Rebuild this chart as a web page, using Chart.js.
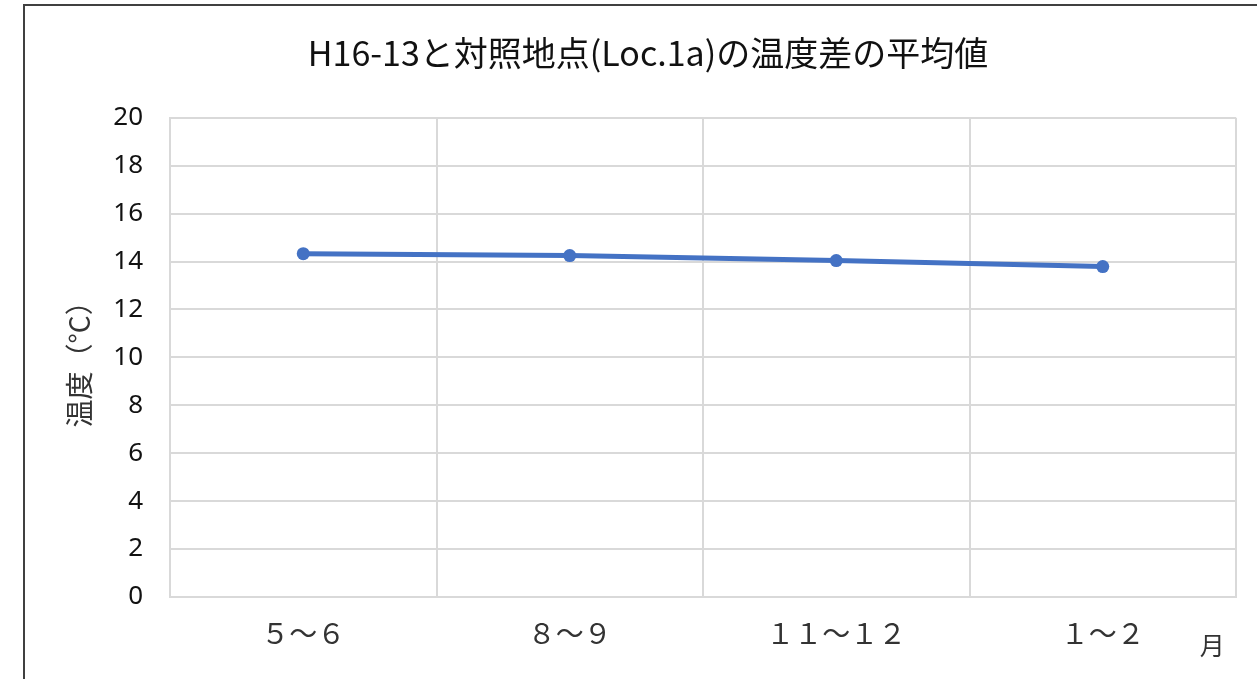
<!DOCTYPE html>
<html lang="ja">
<head>
<meta charset="utf-8">
<title>H16-13と対照地点(Loc.1a)の温度差の平均値</title>
<script src="https://cdn.jsdelivr.net/npm/chart.js@4/dist/chart.umd.min.js"></script>
<style>
  html, body { margin: 0; padding: 0; background: #fff; }
  canvas { display: block; }
</style>
</head>
<body>
<canvas id="diffChart" width="1257" height="679"></canvas>
<script>
// 期間ごとの温度差の平均値 (°C)
const periods = ['５～６', '８～９', '１１～１２', '１～２'];
const meanDiff = [14.33, 14.25, 14.04, 13.79];
const yTicks = [0, 2, 4, 6, 8, 10, 12, 14, 16, 18, 20];

const jpFont = '"Noto Sans CJK JP", "Noto Sans", sans-serif';
const gridColor = '#d9d9d9';

// 外枠（左と上の線だけが見える）
const frame = {
  id: 'frame',
  beforeDraw(chart) {
    const ctx = chart.ctx;
    ctx.save();
    ctx.fillStyle = '#fff';
    ctx.fillRect(0, 0, chart.width, chart.height);
    ctx.strokeStyle = '#404040';
    ctx.lineWidth = 2;
    ctx.strokeRect(24, 5, chart.width + 20, chart.height + 20);
    ctx.restore();
  }
};

new Chart(document.getElementById('diffChart'), {
  type: 'line',
  data: {
    labels: periods,
    datasets: [{
      label: '温度差',
      data: meanDiff,
      borderColor: '#4472C4',
      backgroundColor: '#4472C4',
      borderWidth: 5,
      pointRadius: 6.5,
      pointBorderWidth: 0,
      pointBackgroundColor: '#4472C4',
      tension: 0
    }]
  },
  options: {
    responsive: false,
    animation: false,
    layout: { padding: { left: 60, right: 21, top: 0, bottom: 0 } },
    plugins: {
      legend: { display: false },
      tooltip: { enabled: false },
      title: {
        display: true,
        text: 'H16-13と対照地点(Loc.1a)の温度差の平均値',
        color: '#111',
        font: { family: jpFont, size: 34, weight: 'normal', lineHeight: 1.2 },
        padding: { top: 33, bottom: 44 }
      }
    },
    scales: {
      x: {
        offset: true,
        grid: { color: gridColor, lineWidth: 2, drawTicks: false, offset: true },
        border: { color: gridColor, width: 2 },
        ticks: {
          color: '#333',
          padding: 20,
          font: { family: jpFont, size: 28 }
        },
        title: {
          display: true,
          text: '月  ',
          align: 'end',
          color: '#333',
          font: { family: jpFont, size: 25, lineHeight: 1.2 },
          padding: { top: 0, bottom: 19 }
        },
        afterFit(scale) { scale.height = 82; }
      },
      y: {
        min: 0,
        max: 20,
        grid: { color: gridColor, lineWidth: 2, drawTicks: false },
        border: { color: gridColor, width: 2 },
        afterBuildTicks(scale) {
          scale.ticks = yTicks.map(v => ({ value: v }));
        },
        ticks: {
          color: '#111',
          padding: 27,
          font: { family: '"Noto Sans", sans-serif', size: 26 }
        },
        title: {
          display: true,
          text: '温度（°C）',
          color: '#333',
          font: { family: jpFont, size: 28, lineHeight: 1.2 },
          padding: { top: 3, bottom: 0 }
        },
        afterFit(scale) { scale.width = 110; }
      }
    }
  },
  plugins: [frame]
});
</script>
</body>
</html>
